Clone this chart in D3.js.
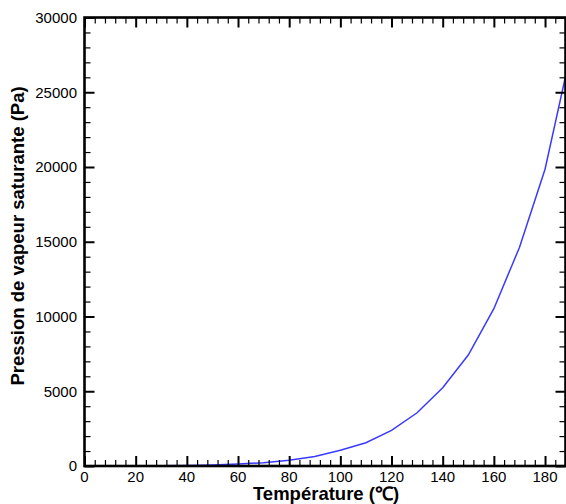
<!DOCTYPE html>
<html>
<head>
<meta charset="utf-8">
<script src="https://cdn.jsdelivr.net/npm/d3@7/dist/d3.min.js"></script>
<style>
  html, body { margin: 0; padding: 0; background: #fff; }
  svg { display: block; font-family: "Liberation Sans", Arial, sans-serif; }
</style>
</head>
<body>
<div id="chart"></div>
<script>
// Saturation vapour pressure vs temperature
const temperatures = [0, 10, 20, 30, 40, 50, 60, 70, 80, 90, 100, 110, 120, 130, 140, 150, 160, 170, 180, 190];
const pressures = [2, 5, 10, 20, 38, 72, 130, 225, 380, 640, 1050, 1560, 2380, 3560, 5230, 7420, 10520, 14620, 19850, 27600];
const xMajorTicks = [0, 20, 40, 60, 80, 100, 120, 140, 160, 180];
const yMajorTicks = [0, 5000, 10000, 15000, 20000, 25000, 30000];
const xTitle = "Température (℃)";
const yTitle = "Pression de vapeur saturante (Pa)";

const W = 566, H = 504;
const plotLeft = 84.5, plotRight = 565.5, plotTop = 17.5, plotBottom = 466;

const svg = d3.select("#chart").append("svg").attr("width", W).attr("height", H);

const x = d3.scaleLinear().domain([0, 188]).range([plotLeft, plotRight]);
const y = d3.scaleLinear().domain([0, 30000]).range([plotBottom, plotTop]);

svg.append("defs").append("clipPath").attr("id", "plot-clip")
  .append("rect").attr("x", plotLeft).attr("y", plotTop)
  .attr("width", plotRight - plotLeft).attr("height", plotBottom - plotTop);

// Curve
const line = d3.line().x((d, i) => x(temperatures[i])).y(d => y(d));
svg.append("path")
  .attr("clip-path", "url(#plot-clip)")
  .attr("d", line(pressures))
  .attr("fill", "none")
  .attr("stroke", "#3a3aff")
  .attr("stroke-width", 1.5);

// Tick generators
const xMinor = d3.range(0, 189, 4).filter(v => v % 20 !== 0);
const yMinor = d3.range(0, 30001, 1000).filter(v => v % 5000 !== 0);
const majorLen = 10, minorLen = 6;

function makeAxis(axisFn, scale, ticks, len, width) {
  const g = svg.append("g").call(axisFn(scale).tickValues(ticks).tickSize(len).tickFormat(""));
  g.select(".domain").remove();
  g.selectAll(".tick line").attr("stroke", "#000").attr("stroke-width", width);
  return g;
}

// bottom ticks pointing up, top ticks pointing down
makeAxis(d3.axisTop, x, xMajorTicks, majorLen, 2).attr("transform", `translate(0,${plotBottom})`);
makeAxis(d3.axisTop, x, xMinor, minorLen, 1.2).attr("transform", `translate(0,${plotBottom})`);
makeAxis(d3.axisBottom, x, xMajorTicks, majorLen, 2).attr("transform", `translate(0,${plotTop})`);
makeAxis(d3.axisBottom, x, xMinor, minorLen, 1.2).attr("transform", `translate(0,${plotTop})`);
// left ticks pointing right, right ticks pointing left
makeAxis(d3.axisRight, y, yMajorTicks, majorLen, 2).attr("transform", `translate(${plotLeft},0)`);
makeAxis(d3.axisRight, y, yMinor, minorLen, 1.2).attr("transform", `translate(${plotLeft},0)`);
makeAxis(d3.axisLeft, y, yMajorTicks, majorLen, 2).attr("transform", `translate(${plotRight},0)`);
makeAxis(d3.axisLeft, y, yMinor, minorLen, 1.2).attr("transform", `translate(${plotRight},0)`);

// Frame
svg.append("rect")
  .attr("x", plotLeft).attr("y", plotTop)
  .attr("width", plotRight - plotLeft).attr("height", plotBottom - plotTop)
  .attr("fill", "none").attr("stroke", "#000").attr("stroke-width", 2.6);

// Tick labels
svg.append("g").selectAll("text").data(xMajorTicks).join("text")
  .attr("x", d => x(d)).attr("y", 482)
  .attr("text-anchor", "middle").attr("font-size", 15).attr("fill", "#000")
  .text(d => d);

svg.append("g").selectAll("text").data(yMajorTicks).join("text")
  .attr("x", 77).attr("y", d => y(d) + 5.3)
  .attr("text-anchor", "end").attr("font-size", 15).attr("fill", "#000")
  .text(d => d);

// Axis titles
svg.append("text")
  .attr("x", 326).attr("y", 500)
  .attr("text-anchor", "middle").attr("font-size", 18.5).attr("font-weight", "bold")
  .text(xTitle);

svg.append("text")
  .attr("transform", "translate(24,236) rotate(-90)")
  .attr("text-anchor", "middle").attr("font-size", 18.5).attr("font-weight", "bold")
  .text(yTitle);
</script>
</body>
</html>
